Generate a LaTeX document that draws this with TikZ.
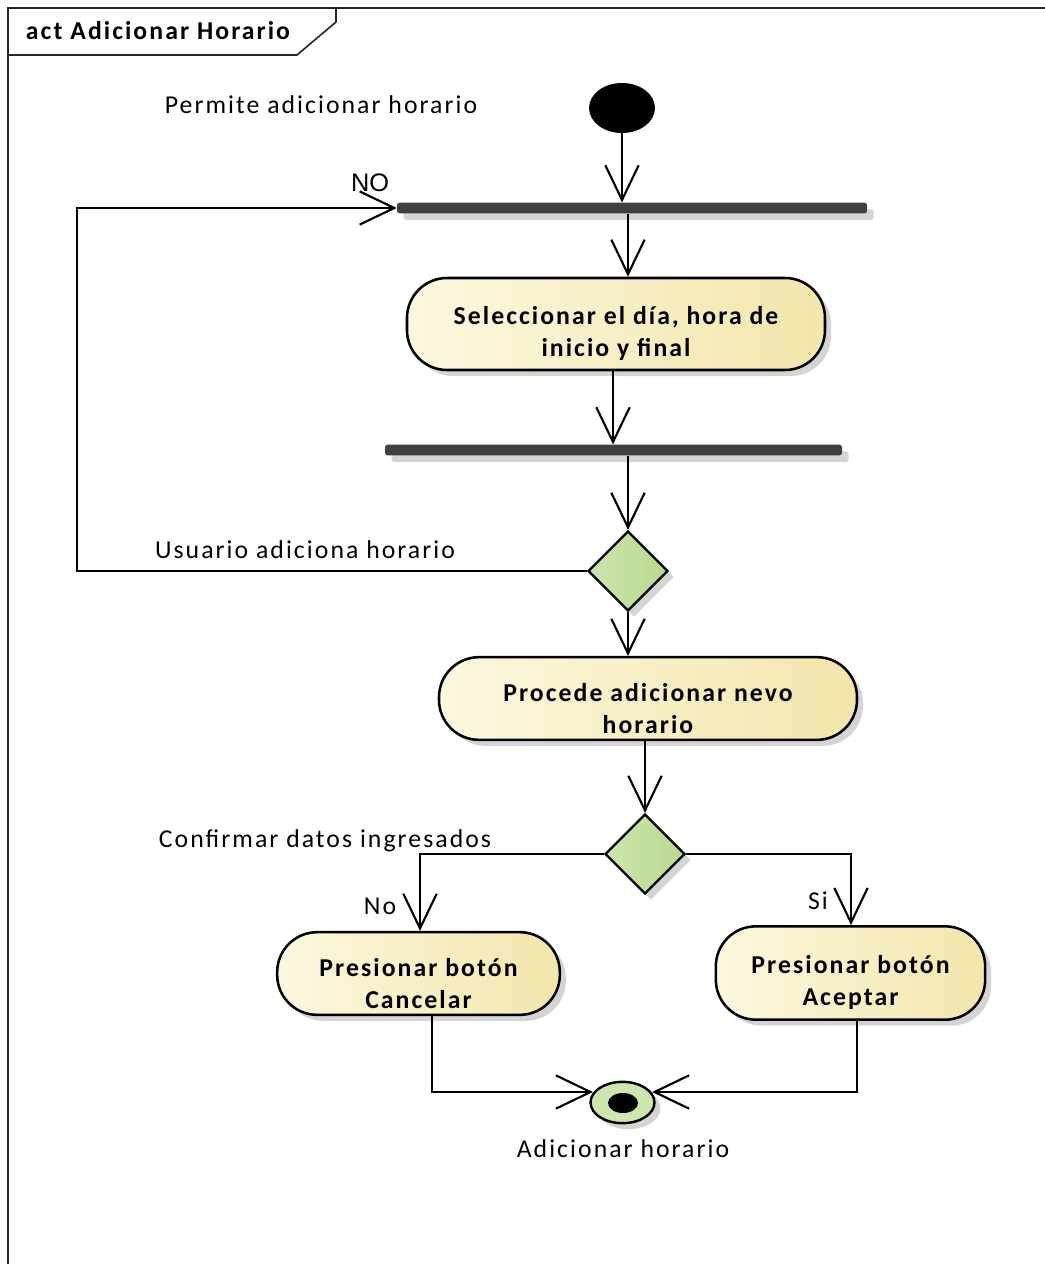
\documentclass[tikz,border=0pt]{standalone}
\usepackage{fontspec}
\setmainfont{Carlito}[LetterSpace=8]
\newfontfamily\arialf{Liberation Sans}
\usetikzlibrary{arrows.meta,shapes.geometric,shadows}
\definecolor{barc}{HTML}{404040}
\definecolor{actl}{HTML}{FCF8DF}
\definecolor{actr}{HTML}{F3E6AC}
\definecolor{decl}{HTML}{CDE5AE}
\definecolor{decr}{HTML}{B9D98E}
\definecolor{shad}{HTML}{D4D4D4}
\newcommand{\tstrut}{\rule{0pt}{28pt}}
\begin{document}
\begin{tikzpicture}[x=0.75pt,y=-0.75pt,
  txt/.style={font=\fontsize{19.3}{22}\selectfont, inner sep=0pt},
  arr/.style={line width=1.6pt, -{Straight Barb[length=26pt,width=25pt,line width=1.6pt]}},
  shd/.style={drop shadow={shadow xshift=4.5pt, shadow yshift=-4.5pt, fill=shad, opacity=1}},
  actbox/.style={draw=black, line width=1.9pt, rounded corners=30pt, left color=actl, right color=actr, shd,
     align=center, inner sep=0pt, font=\bfseries\fontsize{19.3}{24}\selectfont},
  barbox/.style={fill=barc, rounded corners=2pt, inner sep=0pt, minimum height=8pt,
     drop shadow={shadow xshift=5pt, shadow yshift=-5pt, fill=shad, opacity=1}},
  decbox/.style={diamond, draw=black, line width=1.7pt, left color=decl, right color=decr, shd,
     inner sep=0pt, minimum width=60pt, minimum height=60pt, aspect=1}
]
\useasboundingbox (0,0) rectangle (1045,1264);
\fill[white] (0,0) rectangle (1045,1264);
% frame
\draw[line width=1.8pt, draw=black!85] (1045,8) -- (8,8) -- (8,1264);
\draw[line width=1.2pt, draw=black!85] (8,55) -- (297,55) -- (336,22) -- (336,8);
\node[txt, font=\bfseries\fontsize{19.3}{22}\selectfont] (title) at (158,31) {act Adicionar Horario};

% nodes
\node[ellipse, fill=black, minimum width=49.5pt, minimum height=37.5pt, inner sep=0pt] (init) at (622,108) {};
\node[barbox, minimum width=352.5pt] (bar1) at (632,208) {};
\node[actbox, minimum width=313.5pt, minimum height=69pt] (act1) at (616,324) {\tstrut Seleccionar el día, hora de\\inicio y final};
\node[barbox, minimum width=342.75pt] (bar2) at (613.5,450) {};
\node[decbox] (d1) at (628,571) {};
\node[actbox, minimum width=313.5pt, minimum height=62pt] (act2) at (648,698.5) {\tstrut Procede adicionar nevo\\horario};
\node[decbox] (d2) at (645,854) {};
\node[actbox, minimum width=212pt, minimum height=62pt] (act3) at (418.5,973.5) {\tstrut Presionar botón\\Cancelar};
\node[actbox, minimum width=202pt, minimum height=70pt] (act4) at (850.5,973) {\tstrut Presionar botón\\Aceptar};
\node[ellipse, draw=black, line width=1.8pt, fill=decl, minimum width=48pt, minimum height=31pt, inner sep=0pt, shd] (final) at (622.5,1102.5) {};
\node[ellipse, fill=black, minimum width=22.5pt, minimum height=15pt, inner sep=0pt] (finalin) at (623,1103) {};

% labels
\node[txt] (l1) at (321,105) {Permite adicionar horario};
\node[txt, font=\arialf\fontsize{19}{22}\selectfont] (l2) at (370,183) {NO};
\node[txt] (l3) at (305,550) {Usuario adiciona horario};
\node[txt] (l4) at (325,841) {Confirmar datos ingresados};
\node[txt] (l5) at (380,906) {No};
\node[txt] (l6) at (818,901) {Si};
\node[txt] (l7) at (623,1149) {Adicionar horario};

% helper coordinates
\coordinate (x622) at (622,0);
\coordinate (x628) at (628,0);
\coordinate (x613) at (613,0);
\coordinate (x645) at (645,0);
\coordinate (k1) at (77,571);
\coordinate (k2) at (77,208);
\coordinate (k3) at (420,854);
\coordinate (k4) at (851,854);
\coordinate (k5) at (432,1092);
\coordinate (k6) at (857,1092);
\coordinate (f1) at (593,1092);
\coordinate (f2) at (652,1092);

% connectors
\draw[arr] (init.south -| x622) -- (bar1.north -| x622);
\draw[arr] (bar1.south -| x628) -- (act1.north -| x628);
\draw[arr] (act1.south -| x613) -- (bar2.north -| x613);
\draw[arr] (bar2.south -| x628) -- (d1.north);
\draw[arr] (d1.west) -- (k1) -- (k2) -- (bar1.west);
\draw[arr] (d1.south) -- (act2.north -| x628);
\draw[arr] (act2.south -| x645) -- (d2.north);
\draw[arr] (d2.west) -- (k3) -- (act3.north -| k3);
\draw[arr] (d2.east) -- (k4) -- (act4.north -| k4);
\draw[arr] (act3.south -| k5) -- (k5) -- (f1);
\draw[arr] (act4.south -| k6) -- (k6) -- (f2);
\end{tikzpicture}
\end{document}
